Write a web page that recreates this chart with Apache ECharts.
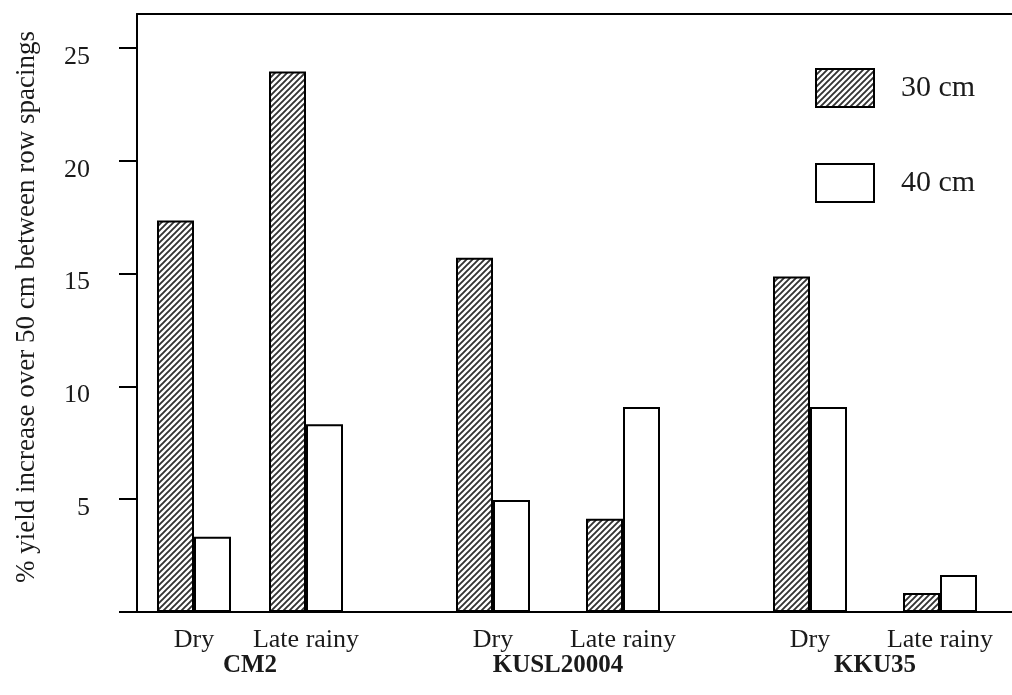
<!DOCTYPE html>
<html>
<head>
<meta charset="utf-8">
<script src="https://cdn.jsdelivr.net/npm/echarts@6/dist/echarts.min.js"></script>
<style>
html,body{margin:0;padding:0;background:#fff;}
#chart{width:1012px;height:695px;}
</style>
</head>
<body>
<div id="chart"></div>
<script>
// ---- data ----
const varieties = ['CM2', 'KUSL20004', 'KKU35'];
const seasons = ['Dry', 'Late rainy'];
const seriesNames = ['30 cm', '40 cm'];
const yTicks = [0, 5, 10, 15, 20, 25];
const yLabels = [5, 10, 15, 20, 25];
// % yield increase, per variety: [Dry, Late rainy]
const cm2_30 = [17.35, 23.95];
const cm2_40 = [3.33, 8.32];
const kusl_30 = [15.7, 4.13];
const kusl_40 = [4.96, 9.08];
const kku_30 = [14.87, 0.84];
const kku_40 = [9.08, 1.64];
const values30 = [cm2_30, kusl_30, kku_30];
const values40 = [cm2_40, kusl_40, kku_40];

// ---- style ----
const FONT = "'Liberation Serif', 'Times New Roman', serif";
const TXT = '#1a1a1a';
const YMAX = 26.5;

function hatch() {
  const c = document.createElement('canvas');
  c.width = 6; c.height = 6;
  const g = c.getContext('2d');
  g.fillStyle = '#ffffff';
  g.fillRect(0, 0, 6, 6);
  g.strokeStyle = '#333333';
  g.lineWidth = 1.9;
  g.beginPath();
  g.moveTo(-1, 7); g.lineTo(7, -1);
  g.moveTo(-1, 1); g.lineTo(1, -1);
  g.moveTo(5, 7); g.lineTo(7, 5);
  g.stroke();
  return c;
}
const hatchFill = { image: hatch(), repeat: 'repeat' };

// sub-grid layout (horizontal positions of each variety block)
const subGrids = [
  { left: 138, width: 224 },
  { left: 428, width: 260 },
  { left: 745, width: 260 }
];

const grids = [{ left: 137, top: 14, right: 0, bottom: 83 }];
const axisLineStyle = { show: true, lineStyle: { color: '#000', width: 2 } };
const xAxes = [{
  gridIndex: 0, type: 'value', min: 0, max: 1, position: 'bottom',
  axisLine: axisLineStyle,
  axisTick: { show: false }, axisLabel: { show: false }, splitLine: { show: false }
}, {
  gridIndex: 0, type: 'value', min: 0, max: 1, position: 'top',
  axisLine: axisLineStyle,
  axisTick: { show: false }, axisLabel: { show: false }, splitLine: { show: false }
}];
const yAxes = [{
  gridIndex: 0, type: 'value', min: 0, max: YMAX,
  axisLine: axisLineStyle,
  axisTick: { show: true, inside: false, length: 18, customValues: yTicks, lineStyle: { color: '#000', width: 2 } },
  axisLabel: {
    show: true, customValues: yLabels, margin: 47,
    formatter: function (v) { return '{v|' + v + '}'; },
    rich: { v: { fontFamily: FONT, fontSize: 26, color: TXT, padding: [18, 0, 0, 0] } }
  },
  splitLine: { show: false },
  name: '% yield increase over 50 cm between row spacings',
  nameLocation: 'middle', nameGap: 97, nameRotate: 90, nameMoveOverlap: false,
  nameTextStyle: { fontFamily: FONT, fontSize: 27, color: TXT, padding: [0, 0, 0, 12] }
}];
const series = [];

varieties.forEach((v, i) => {
  grids.push({ left: subGrids[i].left, width: subGrids[i].width, top: 14, bottom: 83 });
  xAxes.push({
    gridIndex: i + 1, type: 'category', data: seasons,
    axisLine: { show: false }, axisTick: { show: false },
    axisLabel: { margin: 15, fontFamily: FONT, fontSize: 26, color: TXT, interval: 0 },
    name: v, nameLocation: 'middle', nameGap: 41, nameMoveOverlap: false,
    nameTextStyle: { fontFamily: FONT, fontSize: 25, fontWeight: 'bold', color: TXT }
  });
  yAxes.push({ gridIndex: i + 1, type: 'value', min: 0, max: YMAX, show: false, splitLine: { show: false } });
  series.push({
    name: seriesNames[0], type: 'bar', xAxisIndex: i + 2, yAxisIndex: i + 1,
    data: values30[i], barWidth: 37, barGap: '0%',
    itemStyle: { color: hatchFill, borderColor: '#000', borderWidth: 2 }
  });
  series.push({
    name: seriesNames[1], type: 'bar', xAxisIndex: i + 2, yAxisIndex: i + 1,
    data: values40[i], barWidth: 37, barGap: '0%',
    itemStyle: { color: '#ffffff', borderColor: '#000', borderWidth: 2 }
  });
});

const chart = echarts.init(document.getElementById('chart'), null, { renderer: 'canvas' });
chart.setOption({
  animation: false,
  backgroundColor: '#ffffff',
  grid: grids,
  xAxis: xAxes,
  yAxis: yAxes,
  legend: {
    data: seriesNames, orient: 'vertical', left: 810, top: 63,
    icon: 'rect', itemWidth: 58, itemHeight: 38, itemGap: 55,
    itemStyle: { borderColor: '#000', borderWidth: 2 },
    textStyle: { fontFamily: FONT, fontSize: 30, color: TXT, padding: [0, 0, 0, 22] }
  },
  series: series
});
</script>
</body>
</html>
